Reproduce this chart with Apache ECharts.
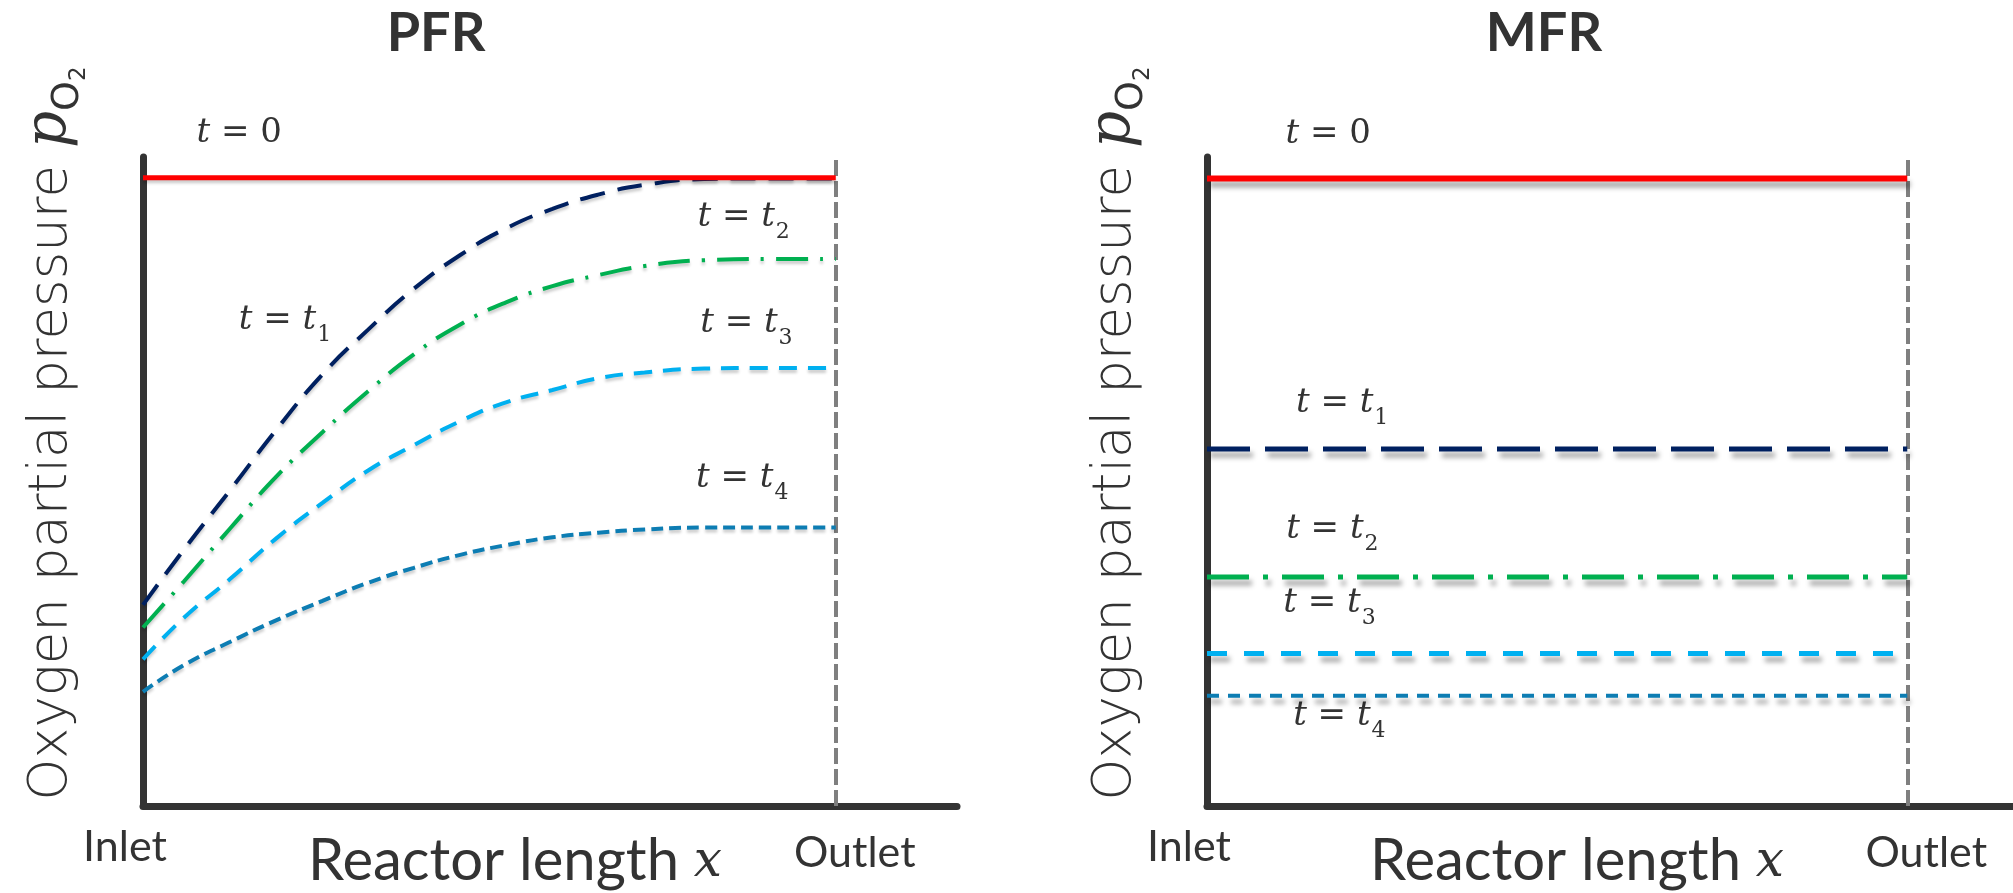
<!DOCTYPE html>
<html>
<head>
<meta charset="utf-8">
<title>PFR vs MFR</title>
<script src="https://cdn.jsdelivr.net/npm/echarts@6/dist/echarts.min.js"></script>
<style>
  html, body { margin: 0; padding: 0; background: #fff; }
  #chart { width: 2013px; height: 893px; }
</style>
</head>
<body>
<div id="chart"></div>
<script>
// reactor position, 0 = inlet, 1 = outlet
const pfrX = [0, 0.059, 0.126, 0.192, 0.259, 0.325, 0.391, 0.458, 0.524, 0.591, 0.657, 0.724, 0.81, 0.9, 1.0];
const pfrT0 = [96.8, 96.8, 96.8, 96.8, 96.8, 96.8, 96.8, 96.8, 96.8, 96.8, 96.8, 96.8, 96.8, 96.8, 96.8];
const pfrT1 = [31.0, 39.5, 48.7, 57.9, 66.5, 73.4, 79.7, 84.9, 89.0, 92.0, 94.2, 95.7, 96.6, 96.7, 96.7];
const pfrT2 = [27.5, 34.6, 42.8, 50.7, 57.6, 63.9, 69.6, 74.2, 77.6, 80.1, 81.8, 83.2, 84.1, 84.3, 84.3];
const pfrT3 = [22.6, 29.0, 35.0, 41.2, 46.7, 51.7, 55.6, 59.3, 62.2, 64.1, 65.9, 66.8, 67.4, 67.5, 67.5];
const pfrT4 = [17.6, 21.7, 25.3, 28.6, 31.6, 34.4, 36.7, 38.7, 40.2, 41.4, 42.1, 42.6, 42.9, 42.9, 42.9];

const mfrX = [0, 1];
const mfrT0 = [96.7, 96.7];
const mfrT1 = [55.0, 55.0];
const mfrT2 = [35.3, 35.3];
const mfrT3 = [23.5, 23.5];
const mfrT4 = [17.0, 17.0];

const tickLabels = ['Inlet', 'Outlet'];
const timeNames = ['0', '1', '2', '3', '4'];

// where the t = ... annotations sit (data units); the t = 0 ones sit on the
// red line and get lifted above the plot with an offset
const pfrLabelAt = [[0.139, 96.8], [0.205, 74.2], [0.867, 90.0], [0.871, 73.7], [0.865, 49.8]];
const mfrLabelAt = [[0.173, 96.7], [0.193, 61.4], [0.179, 41.9], [0.175, 30.6], [0.189, 13.2]];

const textColor = '#333333';
const colors = ['#ff0000', '#002060', '#00b050', '#00b0f0', '#0d7db3'];

const pts = (xs, ys) => xs.map((x, i) => [x, ys[i]]);

const labelRich = {
  i: { fontFamily: 'DejaVu Serif', fontStyle: 'italic', fontSize: 34, color: textColor, verticalAlign: 'bottom', padding: [0, 0, 9, 0] },
  m: { fontFamily: 'DejaVu Serif', fontSize: 34, color: textColor, verticalAlign: 'bottom', padding: [0, 0, 9, 0] },
  s: { fontFamily: 'DejaVu Serif', fontSize: 22, color: textColor, verticalAlign: 'bottom', padding: [0, 0, 0, 1] }
};

function timeLabel(k) {
  if (k === 0) return '{i|t}{m| = 0}';
  return '{i|t}{m| = }{i|t}{s|' + timeNames[k] + '}';
}

function markAt(coord, k) {
  return {
    symbol: 'circle',
    symbolSize: 1,
    silent: true,
    itemStyle: { color: 'rgba(0,0,0,0)' },
    label: {
      show: true, position: 'inside', formatter: timeLabel(k), rich: labelRich,
      offset: k === 0 ? [0, -40] : [0, 0]
    },
    data: [{ coord: coord }]
  };
}

const outletLine = {
  symbol: 'none',
  silent: true,
  label: { show: false },
  lineStyle: { color: '#7f7f7f', width: 4, type: [16, 5] },
  data: [{ xAxis: 1 }]
};

function yAxisFor(idx) {
  return {
    type: 'value', gridIndex: idx, min: 0, max: 100,
    axisLine: { show: true, lineStyle: { color: textColor, width: 7 } },
    axisTick: { show: false }, axisLabel: { show: false }, splitLine: { show: false },
    name: '{n|Oxygen partial pressure }{p|p}{o|O}{d|2}',
    nameLocation: 'middle', nameRotate: 90, nameGap: 52, nameMoveOverlap: false,
    nameTextStyle: {
      padding: [0, 0, 0, 96],
      rich: {
        n: { fontFamily: 'DejaVu Sans', fontWeight: 300, fontSize: 53, color: textColor, verticalAlign: 'bottom', padding: [0, 0, 12, 0] },
        p: { fontFamily: 'DejaVu Serif', fontStyle: 'italic', fontSize: 58, color: textColor, verticalAlign: 'bottom', padding: [0, 0, 12, 0] },
        o: { fontFamily: 'DejaVu Sans', fontSize: 38, color: textColor, verticalAlign: 'bottom', padding: [0, 0, 4, 0] },
        d: { fontFamily: 'DejaVu Sans', fontSize: 23, color: textColor, verticalAlign: 'bottom', padding: [0, 0, 0, 0] }
      }
    }
  };
}

function xAxisFor(idx, max, shift) {
  return {
    type: 'value', gridIndex: idx, min: 0, max: max,
    axisLine: { show: true, onZero: false, lineStyle: { color: textColor, width: 7 } },
    axisTick: { show: false }, splitLine: { show: false },
    axisLabel: {
      show: true, margin: 20, customValues: [0, 1],
      formatter: v => (v === 0 ? '{a|' + tickLabels[0] + '}' : '{b|' + tickLabels[1] + '}'),
      rich: {
        a: { fontFamily: 'Lato', fontSize: 43, color: textColor, padding: [0, 36, 0, 0] },
        b: { fontFamily: 'Lato', fontSize: 43, color: textColor, padding: [6, 0, 0, 38] }
      }
    },
    name: '{r|Reactor length }{x|x}',
    nameLocation: 'middle', nameGap: 26, nameMoveOverlap: false,
    nameTextStyle: {
      padding: [0, shift, 0, 0],
      rich: {
        r: { fontFamily: 'Lato', fontSize: 58, color: textColor, verticalAlign: 'bottom' },
        x: { fontFamily: 'DejaVu Serif', fontStyle: 'italic', fontSize: 50, color: textColor, verticalAlign: 'bottom', padding: [0, 0, 2, 0] }
      }
    }
  };
}

// dash patterns differ between the two panels in the original drawing
const pfrStyles = [
  { width: 5, type: 'solid' },
  { width: 4, type: [25, 13] },
  { width: 4, type: [32, 12, 3, 12] },
  { width: 4, type: [18, 11] },
  { width: 4, type: [12, 6] }
];
const mfrStyles = [
  { width: 6, type: 'solid' },
  { width: 5, type: [43, 15] },
  { width: 5, type: [42, 14, 5, 14] },
  { width: 5, type: [20, 17] },
  { width: 4, type: [12, 9] }
];

const pfrData = [pfrT0, pfrT1, pfrT2, pfrT3, pfrT4];
const mfrData = [mfrT0, mfrT1, mfrT2, mfrT3, mfrT4];

const series = [];
pfrData.forEach((ys, k) => {
  series.push({
    type: 'line', xAxisIndex: 0, yAxisIndex: 0, data: pts(pfrX, ys),
    showSymbol: false, smooth: 0.5, z: 10 - k, animation: false,
    lineStyle: Object.assign({ color: colors[k], shadowColor: 'rgba(0,0,0,0.2)', shadowBlur: 3, shadowOffsetY: 3 }, pfrStyles[k]),
    markPoint: markAt(pfrLabelAt[k], k),
    markLine: k === 0 ? outletLine : undefined
  });
});
mfrData.forEach((ys, k) => {
  series.push({
    type: 'line', xAxisIndex: 1, yAxisIndex: 1, data: pts(mfrX, ys),
    showSymbol: false, z: 10 - k, animation: false,
    lineStyle: Object.assign({ color: colors[k], shadowColor: 'rgba(0,0,0,0.35)', shadowBlur: 5, shadowOffsetX: 3, shadowOffsetY: 6 }, mfrStyles[k]),
    markPoint: markAt(mfrLabelAt[k], k),
    markLine: k === 0 ? outletLine : undefined
  });
});

const chart = echarts.init(document.getElementById('chart'));
chart.setOption({
  backgroundColor: '#ffffff',
  animation: false,
  title: [
    { text: 'PFR', left: 431, top: 2, textAlign: 'center', textStyle: { fontFamily: 'Lato', fontWeight: 'bold', fontSize: 54, color: textColor } },
    { text: 'MFR', left: 1539, top: 2, textAlign: 'center', textStyle: { fontFamily: 'Lato', fontWeight: 'bold', fontSize: 54, color: textColor } }
  ],
  grid: [
    { left: 143, width: 814, top: 157, bottom: 87, outerBoundsMode: 'none' },
    { left: 1207, width: 806, top: 157, bottom: 87, outerBoundsMode: 'none' }
  ],
  xAxis: [xAxisFor(0, 1.175, 70), xAxisFor(1, 1.151, 66)],
  yAxis: [yAxisFor(0), yAxisFor(1)],
  series: series
});
</script>
</body>
</html>
